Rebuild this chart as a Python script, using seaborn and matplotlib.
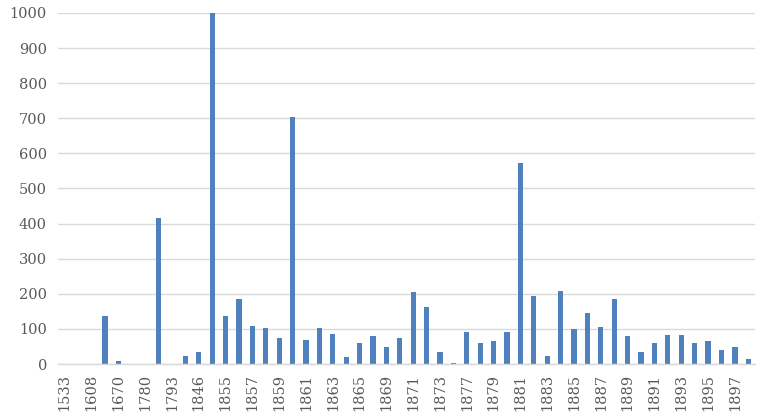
import matplotlib
matplotlib.use("Agg")
import matplotlib.pyplot as plt
import seaborn as sns
import pandas as pd

years = ["1533", "1590", "1608", "1640", "1670", "1700", "1780", "1789", "1793", "1800",
         "1846", "1848", "1855", "1856", "1857", "1858", "1859", "1860", "1861", "1862",
         "1863", "1864", "1865", "1866", "1869", "1870", "1871", "1872", "1873", "1874",
         "1877", "1878", "1879", "1880", "1881", "1882", "1883", "1884", "1885", "1886",
         "1887", "1888", "1889", "1890", "1891", "1892", "1893", "1894", "1895", "1896",
         "1897", "1898"]
counts = [1, 1, 1, 137, 9, 1, 0, 415, 0, 22,
          34, 1000, 137, 185, 107, 103, 75, 703, 68, 102,
          85, 19, 60, 79, 49, 75, 205, 162, 33, 3,
          92, 60, 66, 91, 572, 194, 23, 208, 100, 146,
          105, 186, 81, 33, 61, 83, 83, 60, 65, 39,
          49, 14]
y_ticks = [0, 100, 200, 300, 400, 500, 600, 700, 800, 900, 1000]

df = pd.DataFrame({"year": years, "count": counts})

sns.set_theme(style="white")
plt.rcParams['font.family'] = ['DejaVu Serif', 'Liberation Serif']

fig = plt.figure(figsize=(7.6, 4.18), dpi=100)
ax = fig.add_axes([58/760, 1-364/418, (755-58)/760, (364-13)/418])

sns.barplot(data=df, x="year", y="count", order=years, color="#4F81BD",
            saturation=1, width=0.39, linewidth=0, ax=ax)

ax.set_ylim(0, 1000)
ax.set_xlim(-0.5, len(years) - 0.5)
ax.set_yticks(y_ticks)
ax.set_yticklabels([str(v) for v in y_ticks])
ax.set_xticks(range(0, len(years), 2))
ax.set_xticklabels(years[::2], rotation=90)
ax.set_xlabel("")
ax.set_ylabel("")
ax.yaxis.grid(True, color="#d9d9d9", linewidth=1)
ax.set_axisbelow(True)
for s in ["top", "right", "left"]:
    ax.spines[s].set_visible(False)
ax.spines["bottom"].set_color("#d9d9d9")
ax.spines["bottom"].set_linewidth(1)
ax.tick_params(axis="both", length=0, labelsize=10.5, labelcolor="#595959")
ax.tick_params(axis="y", pad=8)
ax.tick_params(axis="x", pad=7)

fig.savefig("out.png", dpi=100)
